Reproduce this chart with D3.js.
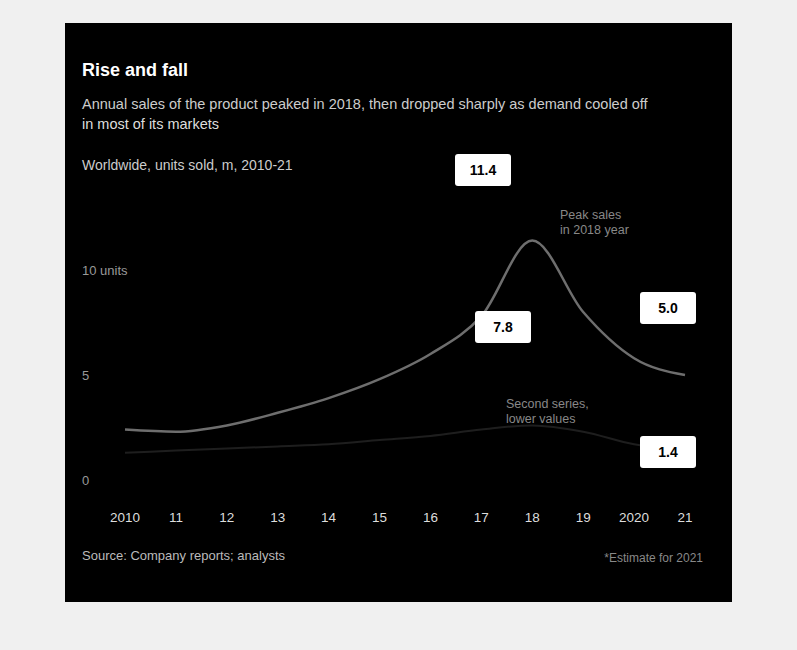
<!DOCTYPE html>
<html><head><meta charset="utf-8">
<script src="https://cdn.jsdelivr.net/npm/d3@7"></script>
<style>body{margin:0;background:#f0f0f0;font-family:"Liberation Sans",Arial,sans-serif}</style>
</head><body><div id="chart"></div>
<script>
const years = [2010,2011,2012,2013,2014,2015,2016,2017,2018,2019,2020,2021];
const yearLabels = ["2010","11","12","13","14","15","16","17","18","19","2020","21"];
const seriesA = [2.4,2.3,2.6,3.2,3.9,4.8,6.0,7.8,11.4,8.0,5.8,5.0];
const seriesB = [1.3,1.4,1.5,1.6,1.7,1.9,2.1,2.4,2.6,2.3,1.7,1.4];
const yTicks = [0,5,10];

const W=797,H=650;
const svg=d3.select("#chart").append("svg").attr("width",W).attr("height",H);
svg.append("rect").attr("x",65).attr("y",23).attr("width",667).attr("height",579).attr("fill","#000");

const x=d3.scaleLinear().domain([2010,2021]).range([125,685]);
const y=d3.scaleLinear().domain([0,12]).range([480,228]);

// titles
svg.append("text").attr("x",82).attr("y",76).attr("fill","#fff").attr("font-size",18).attr("font-weight","bold").text("Rise and fall");
svg.append("text").attr("x",82).attr("y",109).attr("fill","#ccc").attr("font-size",14.5).text("Annual sales of the product peaked in 2018, then dropped sharply as demand cooled off");
svg.append("text").attr("x",82).attr("y",129).attr("fill","#ddd").attr("font-size",14.5).text("in most of its markets");
svg.append("text").attr("x",82).attr("y",170).attr("fill","#ccc").attr("font-size",14).text("Worldwide, units sold, m, 2010-21");

// y axis labels
svg.selectAll(".yt").data(yTicks).enter().append("text")
  .attr("x",82).attr("y",d=>y(d)+5).attr("fill","#999").attr("font-size",13)
  .text(d=>d===10?"10 units":d);

// x axis labels
svg.selectAll(".xt").data(years).enter().append("text")
  .attr("x",d=>x(d)).attr("y",522).attr("text-anchor","middle").attr("fill","#ddd").attr("font-size",13.5)
  .text((d,i)=>yearLabels[i]);

// lines
const line=d3.line().x((d,i)=>x(years[i])).y(d=>y(d)).curve(d3.curveMonotoneX);
svg.append("path").datum(seriesB).attr("d",line).attr("fill","none").attr("stroke","#1e1e1e").attr("stroke-width",2);
svg.append("path").datum(seriesA).attr("d",line).attr("fill","none").attr("stroke","#6e6e6e").attr("stroke-width",2.5);

// value boxes
function box(cx,cy,t){
  svg.append("rect").attr("x",cx-28).attr("y",cy-16).attr("width",56).attr("height",32).attr("rx",3).attr("fill","#fff");
  svg.append("text").attr("x",cx).attr("y",cy+5).attr("text-anchor","middle").attr("font-size",14).attr("font-weight","bold").attr("fill","#000").text(t);
}
box(483,170,"11.4");
box(503,327,"7.8");
box(668,308,"5.0");
box(668,452,"1.4");

// annotations
function note(xx,yy,lines){
  lines.forEach((l,i)=>svg.append("text").attr("x",xx).attr("y",yy+i*15).attr("fill","#888").attr("font-size",12.5).text(l));
}
note(560,219,["Peak sales","in 2018 year"]);
note(506,408,["Second series,","lower values"]);

// footer
svg.append("text").attr("x",82).attr("y",560).attr("fill","#bbb").attr("font-size",13).text("Source: Company reports; analysts");
svg.append("text").attr("x",703).attr("y",562).attr("text-anchor","end").attr("fill","#888").attr("font-size",12).text("*Estimate for 2021");
</script></body></html>
